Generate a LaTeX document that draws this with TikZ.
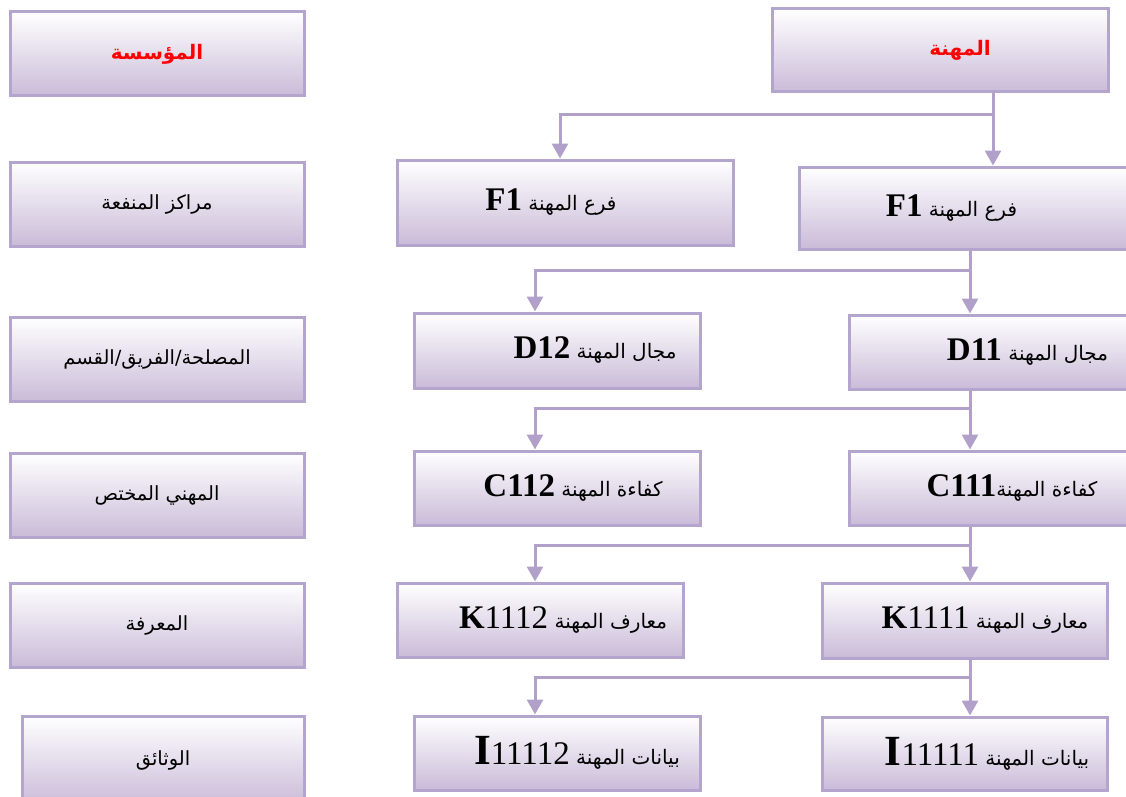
\documentclass[tikz,border=0pt]{standalone}
\usepackage{fontspec}
\setmainfont{Liberation Serif}
\newfontfamily\arabicfont[Script=Arabic]{DejaVu Sans}
\TeXXeTstate=1
\usetikzlibrary{arrows.meta}

\definecolor{frameline}{HTML}{B4A5CE}
\definecolor{boxfoot}{HTML}{CABBD8}
\definecolor{linkline}{HTML}{B0A0CA}

% Arabic label followed (to its left) by a Latin code
\newcommand\mixlabel[2]{\beginR{\arabicfont\fontsize{20}{24}\selectfont #1}\beginL#2\endL\endR}
\newcommand\codebf[1]{{\rmfamily\fontsize{33}{36}\selectfont\bfseries #1}}
\newcommand\coderm[1]{{\rmfamily\fontsize{33}{36}\selectfont #1}}
\newcommand\sidelabel[1]{{\arabicfont\fontsize{19.5}{23}\selectfont\beginR #1\endR}}
\newcommand\headlabel[1]{{\arabicfont\fontsize{20}{24}\selectfont\bfseries\color{red}\beginR #1\endR}}

\tikzset{
  box/.style={draw=frameline, line width=3pt, top color=white, bottom color=boxfoot,
              rectangle, inner sep=0pt, anchor=center},
  link/.style={draw=linkline, line width=3pt},
  arrowlink/.style={link, -{Triangle[length=15pt,width=16pt]}},
}

\begin{document}
\begin{tikzpicture}[x=1pt,y=-1pt]
\useasboundingbox (0,0) rectangle (1126,797);
\clip (0,0) rectangle (1126,797);

% left column: organisation levels
\node[box, minimum width=294pt, minimum height=84pt] (org)  at (157,54)  {\headlabel{المؤسسة}};
\node[box, minimum width=294pt, minimum height=84pt] (ben)  at (157,204) {\sidelabel{مراكز المنفعة}};
\node[box, minimum width=294pt, minimum height=84pt] (dep)  at (157,359) {\sidelabel{المصلحة/الفريق/القسم}};
\node[box, minimum width=294pt, minimum height=84pt] (spec) at (157,495) {\sidelabel{المهني المختص}};
\node[box, minimum width=294pt, minimum height=84pt] (know) at (157,625) {\sidelabel{المعرفة}};
\node[box, minimum width=282pt, minimum height=89pt] (docs) at (163,760.5) {\sidelabel{الوثائق}};

% profession tree
\node[box, minimum width=336pt, minimum height=83pt] (prof) at (940,50.5)
  {\hspace*{40pt}\headlabel{المهنة}};
\node[box, minimum width=336pt, minimum height=85pt] (f1l) at (565,202.5)
  {\mixlabel{فرع المهنة }{\codebf{F1}}\hspace*{28pt}};
\node[box, minimum width=341pt, minimum height=82pt] (f1r) at (969.5,208)
  {\mixlabel{فرع المهنة }{\codebf{F1}}\hspace*{36pt}};
\node[box, minimum width=286pt, minimum height=75pt] (d12) at (557,350.5)
  {\hspace*{76pt}\mixlabel{مجال المهنة }{\codebf{D12}}};
\node[box, minimum width=291pt, minimum height=74pt] (d11) at (994.5,352)
  {\hspace*{66pt}\mixlabel{مجال المهنة }{\codebf{D11}}};
\node[box, minimum width=286pt, minimum height=74pt] (c112) at (557,488)
  {\hspace*{32pt}\mixlabel{كفاءة المهنة }{\codebf{C112}}};
\node[box, minimum width=291pt, minimum height=74pt] (c111) at (994.5,488)
  {\hspace*{35pt}\mixlabel{كفاءة المهنة}{\codebf{C111}}};
\node[box, minimum width=286pt, minimum height=74pt] (k1112) at (540,620)
  {\hspace*{46pt}\mixlabel{معارف المهنة }{\codebf{K}\coderm{1112}}};
\node[box, minimum width=285pt, minimum height=75pt] (k1111) at (965,620.5)
  {\hspace*{40pt}\mixlabel{معارف المهنة }{\codebf{K}\coderm{1111}}};
\node[box, minimum width=286pt, minimum height=74pt] (i11112) at (557,753)
  {\hspace*{40pt}\mixlabel{بيانات المهنة }{{\rmfamily\fontsize{43}{44}\selectfont\bfseries I}\coderm{11112}}};
\node[box, minimum width=285pt, minimum height=73pt] (i11111) at (965,753.5)
  {\hspace*{44pt}\mixlabel{بيانات المهنة }{{\rmfamily\fontsize{43}{44}\selectfont\bfseries I}\coderm{11111}}};

% connectors
\coordinate (t1) at (993,0);
\coordinate (j1) at (993,115);
\coordinate (b1) at (560,0);
\draw[arrowlink] (prof.south -| t1) -- (f1r.north -| t1);
\draw[arrowlink] (j1) -| (f1l.north -| b1);

\coordinate (tr) at (970,0);
\coordinate (bl) at (535,0);
\foreach \up/\dn/\side/\jy in {f1r/d11/d12/270, d11/c111/c112/408, c111/k1111/k1112/545, k1111/i11111/i11112/677} {
  \coordinate (jn) at (970,\jy);
  \draw[arrowlink] (\up.south -| tr) -- (\dn.north -| tr);
  \draw[arrowlink] (jn) -| (\side.north -| bl);
}
\end{tikzpicture}
\end{document}
